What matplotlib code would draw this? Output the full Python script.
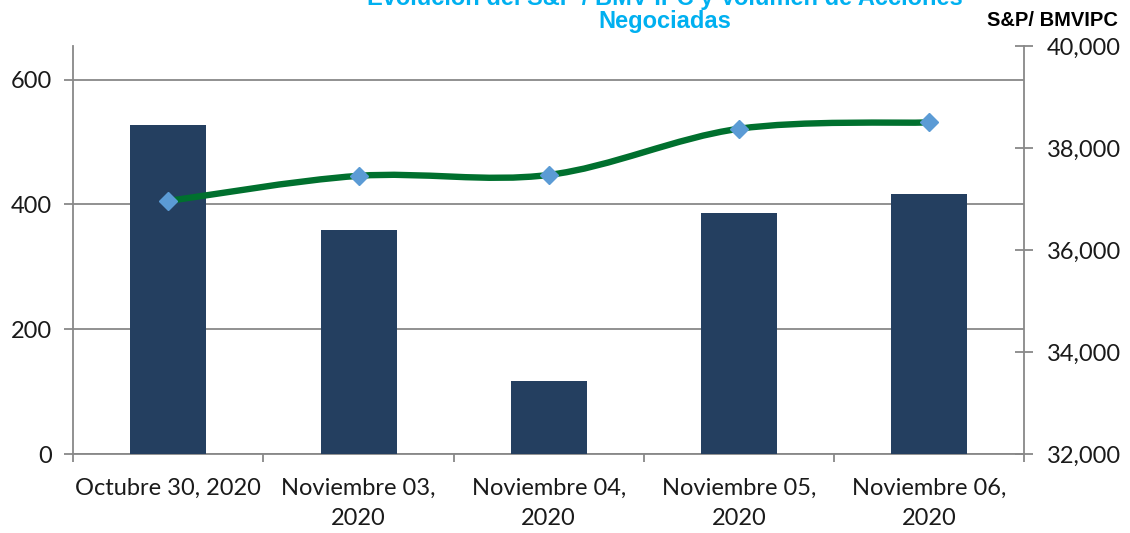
import matplotlib
matplotlib.use("Agg")
import matplotlib.pyplot as plt
import numpy as np
from matplotlib.path import Path
from matplotlib.patches import PathPatch
from matplotlib.ticker import FuncFormatter

# ---- data ----
categories = ["Octubre 30, 2020", "Noviembre 03,\n2020", "Noviembre 04,\n2020",
              "Noviembre 05,\n2020", "Noviembre 06,\n2020"]
volumen = [527, 359, 117, 386, 417]
ipc = [36970, 37462, 37480, 38385, 38510]
left_ticks = [0, 200, 400, 600]
right_ticks = [32000, 34000, 36000, 38000, 40000]
title_line1 = "Evolución del S&P / BMV IPC y Volumen de Acciones"
title_line2 = "Negociadas"
right_label = "S&P/ BMVIPC"

BAR = "#243F60"
GREEN = "#00702E"
MARK = "#5B9BD5"
GRAY = "#888888"
TITLE = "#00B0F0"

fig = plt.figure(figsize=(11.3, 5.33), dpi=100)
ax = fig.add_axes([0.0649, 0.1477, 0.8413, 0.7651])
ax2 = ax.twinx()

x = np.arange(len(categories))
ax.bar(x, volumen, width=0.4, color=BAR, zorder=3)
ax.set_xlim(-0.5, len(categories) - 0.5)
ax.set_ylim(0, 653)
ax.set_yticks(left_ticks)
ax.yaxis.grid(True, color=GRAY, linewidth=1.3, zorder=0)
ax.set_axisbelow(True)

for s in ["top"]:
    ax.spines[s].set_visible(False)
    ax2.spines[s].set_visible(False)
ax.spines["left"].set_color(GRAY)
ax.spines["left"].set_linewidth(1.3)
ax.spines["bottom"].set_color(GRAY)
ax.spines["bottom"].set_linewidth(1.3)
ax.spines["right"].set_visible(False)
ax2.spines["left"].set_visible(False)
ax2.spines["bottom"].set_visible(False)
ax2.spines["right"].set_color(GRAY)
ax2.spines["right"].set_linewidth(1.3)

tickfont = dict(family="Lato", size=17, color="#1a1a1a")
ax.set_xticks(x)
ax.set_xticklabels(categories, fontdict=tickfont, linespacing=1.55)
ax.set_xticks(np.arange(-0.5, len(categories)), minor=True)
ax.tick_params(axis="x", which="major", length=0, pad=17)
ax.tick_params(axis="x", which="minor", length=6, width=1.3, color=GRAY, direction="out")
ax.tick_params(axis="y", length=6.5, width=1.3, color=GRAY, pad=9)
for t in ax.get_yticklabels():
    t.set_fontfamily("Lato"); t.set_fontsize(17); t.set_color("#1a1a1a")

ax2.set_ylim(right_ticks[0], right_ticks[-1])
ax2.set_yticks(right_ticks)
ax2.yaxis.set_major_formatter(FuncFormatter(lambda v, p: f"{int(v):,}"))
ax2.tick_params(axis="y", direction="inout", length=13, width=1.3, color=GRAY, pad=10)
for t in ax2.get_yticklabels():
    t.set_fontfamily("Lato"); t.set_fontsize(17); t.set_color("#1a1a1a")

# smoothed line (Bezier through data points, Excel-like)
pts = np.column_stack([x, ipc]).astype(float)
n = len(pts)
verts = [tuple(pts[0])]
codes = [Path.MOVETO]
for i in range(n - 1):
    p0 = pts[i - 1] if i > 0 else pts[i]
    p1 = pts[i]
    p2 = pts[i + 1]
    p3 = pts[i + 2] if i + 2 < n else pts[i + 1]
    c1 = p1 + (p2 - p0) / 6.0
    c2 = p2 - (p3 - p1) / 6.0
    verts += [tuple(c1), tuple(c2), tuple(p2)]
    codes += [Path.CURVE4] * 3
ax2.add_patch(PathPatch(Path(verts, codes), facecolor="none", edgecolor=GREEN,
                        linewidth=4.6, capstyle="butt", zorder=4))
ax2.plot(x, ipc, linestyle="none", marker="D", markersize=9.2, color=MARK,
         markeredgecolor=MARK, zorder=5)

fig.text(0.5885, 0.9906, title_line1, ha="center", va="baseline",
         fontfamily="Liberation Sans", fontweight="bold", fontsize=17, color=TITLE)
fig.text(0.5885, 0.9475, title_line2, ha="center", va="baseline",
         fontfamily="Liberation Sans", fontweight="bold", fontsize=17, color=TITLE)
fig.text(0.9315, 0.951, right_label, ha="center", va="baseline",
         fontfamily="Liberation Sans", fontweight="bold", fontsize=14.5, color="black")

fig.savefig("out.png", dpi=100)
